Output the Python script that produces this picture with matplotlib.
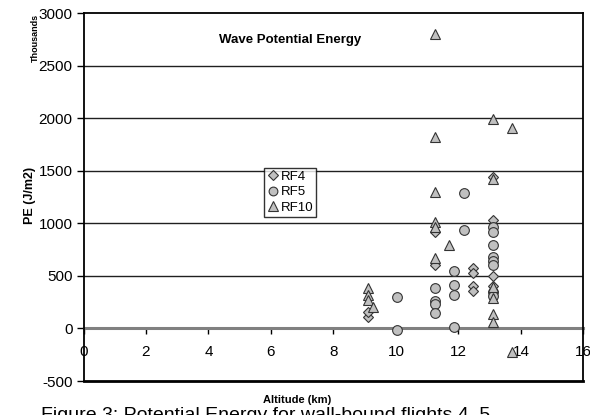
import matplotlib
matplotlib.use("Agg")
import matplotlib.pyplot as plt

plt.rcParams['font.family'] = ['Liberation Sans', 'DejaVu Sans']

# Data (PE in thousands of J/m2)
rf4_alt = [9.1, 9.1, 11.25, 11.25, 12.45, 12.45, 12.45, 12.45, 13.1, 13.1, 13.1, 13.1]
rf4_pe = [110, 160, 600, 920, 570, 530, 400, 360, 1440, 1030, 500, 400]

rf5_alt = [10.04, 10.04, 11.25, 11.25, 11.25, 11.25, 11.86, 11.86, 11.86, 11.86,
           12.18, 12.18, 13.1, 13.1, 13.1, 13.1, 13.1, 13.1, 13.1, 13.1]
rf5_pe = [300, -15, 380, 265, 235, 145, 545, 410, 320, 15,
          1285, 940, 960, 920, 790, 680, 640, 600, 350, 310]

rf10_alt = [9.1, 9.1, 9.1, 9.25, 11.25, 11.25, 11.25, 11.25, 11.25, 11.25, 11.7,
            13.1, 13.1, 13.1, 13.1, 13.1, 13.1, 13.7, 13.7]
rf10_pe = [380, 320, 270, 200, 2800, 1820, 1300, 1010, 960, 670, 790,
           1990, 1420, 390, 290, 140, 60, 1910, -220]

x_ticks = [0, 2, 4, 6, 8, 10, 12, 14, 16]
y_ticks = [-500, 0, 500, 1000, 1500, 2000, 2500, 3000]

fig = plt.figure(figsize=(5.9, 4.15), dpi=100)
ax = fig.add_axes([83.5/590, 1-381/415, 500/590, 368/415])

ax.set_xlim(0, 16)
ax.set_ylim(-500, 3000)

for v in y_ticks:
    if v in (-500, 0, 3000):
        continue
    ax.axhline(v, color='#202020', lw=1.0, zorder=1)

mk = dict(linestyle='none', markerfacecolor='#c0c0c0', markeredgecolor='#333333',
          markeredgewidth=0.8, zorder=3)
ax.plot(rf4_alt, rf4_pe, marker='D', markersize=5.5, label='RF4', **mk)
ax.plot(rf5_alt, rf5_pe, marker='o', markersize=7, label='RF5', **mk)
ax.plot(rf10_alt, rf10_pe, marker='^', markersize=7.5, label='RF10', **mk)

# x-axis crosses at y=0
ax.spines['bottom'].set_position(('data', 0))
ax.spines['bottom'].set_color('#808080')
ax.spines['bottom'].set_linewidth(2.2)
ax.spines['bottom'].set_zorder(2)
for s in ('left', 'top', 'right'):
    ax.spines[s].set_color('black')
    ax.spines[s].set_linewidth(1.3)
ax.axhline(-500, color='black', lw=2.0, clip_on=False, zorder=4)

ax.set_xticks(x_ticks)
ax.set_xticklabels([str(t) for t in x_ticks])
ax.set_yticks(y_ticks)
ax.set_yticklabels([str(t) for t in y_ticks])
ax.tick_params(axis='x', direction='out', length=4, width=1, color='black',
               pad=8, labelsize=11)
ax.tick_params(axis='y', direction='out', length=5, width=1, color='black',
               pad=3, labelsize=11)

ax.text(0.413, 0.927, 'Wave Potential Energy', transform=ax.transAxes,
        ha='center', va='center', fontsize=9.5, fontweight='bold')

leg = ax.legend(loc='upper left', bbox_to_anchor=((264-83.5)/500, (381-168)/368),
                frameon=True, fancybox=False, fontsize=9.5, borderpad=0.2,
                handletextpad=0.1, handlelength=1.0, labelspacing=0.25,
                borderaxespad=0, markerscale=0.9)
leg.get_frame().set_edgecolor('black')
leg.get_frame().set_linewidth(1.0)

fig.text(30/590, 1-195/415, 'PE (J/m2)', rotation=90, ha='center', va='center',
         fontsize=9, fontweight='bold')
fig.text(35/590, 1-38/415, 'Thousands', rotation=90, ha='center', va='center',
         fontsize=6.5, fontweight='bold')
fig.text(297/590, 1-400/415, 'Altitude (km)', ha='center', va='center',
         fontsize=8, fontweight='bold')
fig.text(41/590, 1-407/415, 'Figure 3: Potential Energy for wall-bound flights 4, 5',
         ha='left', va='top', fontsize=14)

fig.savefig('out.png', dpi=100)
